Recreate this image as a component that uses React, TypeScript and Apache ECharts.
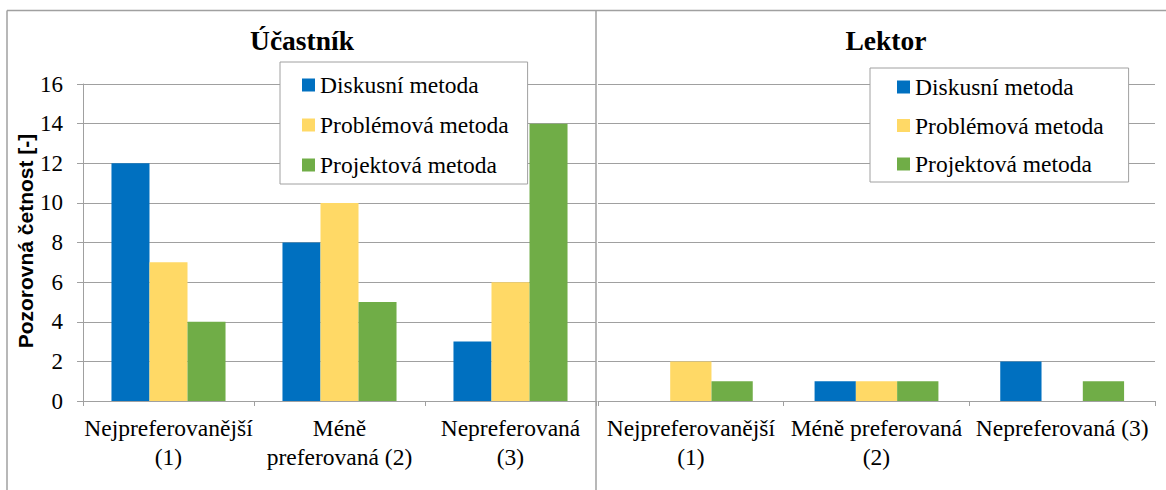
import React, { useEffect, useRef } from "react";
import * as echarts from "echarts";

const seriesNames = ["Diskusní metoda", "Problémová metoda", "Projektová metoda"];
const colors = ["#0070C0", "#FFD966", "#70AD47"];

const leftTitle = "Účastník";
const rightTitle = "Lektor";
const yAxisName = "Pozorovná četnost [-]";

const leftCategories = ["Nejpreferovanější\n(1)", "Méně\npreferovaná (2)", "Nepreferovaná\n(3)"];
const rightCategories = ["Nejpreferovanější\n(1)", "Méně preferovaná\n(2)", "Nepreferovaná (3)"];

const leftDiskusni = [12, 8, 3];
const leftProblemova = [7, 10, 6];
const leftProjektova = [4, 5, 14];

const rightDiskusni = [0, 1, 2];
const rightProblemova = [2, 1, 0];
const rightProjektova = [1, 1, 1];

const yMin = 0;
const yMax = 16;
const yInterval = 2;

const SERIF = "Liberation Serif";
const SANS = "Liberation Sans";
const GRAY = "#A0A0A0";

export default function App() {
  const ref = useRef<HTMLDivElement>(null);

  useEffect(() => {
    document.body.style.margin = "0";
    if (!ref.current) return;
    const chart = echarts.init(ref.current, null, { renderer: "svg" });

    const leftData = [leftDiskusni, leftProblemova, leftProjektova];
    const rightData = [rightDiskusni, rightProblemova, rightProjektova];

    const mkSeries = (data: number[][], idx: number) =>
      data.map((d, i) => ({
        type: "bar",
        name: seriesNames[i],
        xAxisIndex: idx,
        yAxisIndex: idx,
        data: d,
        barGap: "0%",
        barCategoryGap: "33.3%",
        itemStyle: { color: colors[i] },
      }));

    const xAxisBase = (cats: string[], gridIndex: number) => ({
      type: "category",
      gridIndex,
      data: cats,
      axisLine: { show: true, lineStyle: { color: GRAY, width: 1 } },
      axisTick: { show: true, length: 5, alignWithLabel: false, lineStyle: { color: GRAY } },
      axisLabel: {
        interval: 0,
        margin: 12,
        color: "#000",
        fontFamily: SERIF,
        fontWeight: "normal",
        fontSize: 23.5,
        lineHeight: 29,
      },
      splitLine: { show: false },
    });

    const legendBase = (left: number, top: number, gap: number, padding: number[]) => ({
      data: seriesNames,
      orient: "vertical",
      left,
      top,
      itemWidth: 13,
      itemHeight: 13,
      itemGap: gap,
      icon: "rect",
      padding,
      borderColor: GRAY,
      borderWidth: 1,
      backgroundColor: "#fff",
      textStyle: { color: "#000", fontFamily: SERIF, fontWeight: "normal", fontSize: 23.5, lineHeight: 24 },
      selectedMode: false,
    });

    const option: any = {
      animation: false,
      backgroundColor: "#fff",
      textStyle: { fontFamily: SERIF, color: "#000" },
      grid: [
        { left: 83, top: 84, width: 513, height: 317, containLabel: false },
        { left: 598, top: 84, width: 557, height: 317, containLabel: false },
      ],
      xAxis: [xAxisBase(leftCategories, 0), xAxisBase(rightCategories, 1)],
      yAxis: [
        {
          type: "value",
          gridIndex: 0,
          min: yMin,
          max: yMax,
          interval: yInterval,
          axisLine: { show: true, lineStyle: { color: GRAY } },
          axisTick: { show: true, length: 6, lineStyle: { color: GRAY } },
          axisLabel: { color: "#000", fontFamily: SERIF, fontWeight: "normal", fontSize: 23, margin: 20 },
          splitLine: { show: true, lineStyle: { color: GRAY, width: 1 } },
        },
        {
          type: "value",
          gridIndex: 1,
          min: yMin,
          max: yMax,
          interval: yInterval,
          axisLine: { show: false },
          axisTick: { show: false },
          axisLabel: { show: false },
          splitLine: { show: true, lineStyle: { color: GRAY, width: 1 } },
        },
      ],
      legend: [
        legendBase(280, 62, 16, [11, 19, 7, 22]),
        legendBase(870, 68, 14.5, [7, 25, 6, 27]),
      ],
      series: [...mkSeries(leftData, 0), ...mkSeries(rightData, 1)],
      graphic: [
        { type: "line", shape: { x1: 7, y1: 10.5, x2: 1166, y2: 10.5 }, style: { stroke: GRAY, lineWidth: 1.5 }, silent: true },
        { type: "line", shape: { x1: 7, y1: 10.5, x2: 7, y2: 490 }, style: { stroke: GRAY, lineWidth: 1.5 }, silent: true },
        { type: "line", shape: { x1: 596, y1: 10.5, x2: 596, y2: 490 }, style: { stroke: GRAY, lineWidth: 1.5 }, silent: true },
        {
          type: "text",
          x: 302,
          y: 40,
          style: {
            text: leftTitle,
            fill: "#000",
            fontFamily: SERIF,
            fontWeight: "bold",
            fontSize: 27.5,
            textAlign: "center",
            textVerticalAlign: "middle",
          },
        },
        {
          type: "text",
          x: 886,
          y: 40,
          style: {
            text: rightTitle,
            fill: "#000",
            fontFamily: SERIF,
            fontWeight: "bold",
            fontSize: 27.5,
            textAlign: "center",
            textVerticalAlign: "middle",
          },
        },
        {
          type: "text",
          x: 25,
          y: 241,
          rotation: Math.PI / 2,
          style: {
            text: yAxisName,
            fill: "#000",
            fontFamily: SANS,
            fontWeight: "bold",
            fontSize: 21,
            textAlign: "center",
            textVerticalAlign: "middle",
          },
        },
      ],
    };

    chart.setOption(option);
    return () => chart.dispose();
  }, []);

  return <div ref={ref} style={{ width: 1166, height: 490 }} />;
}
